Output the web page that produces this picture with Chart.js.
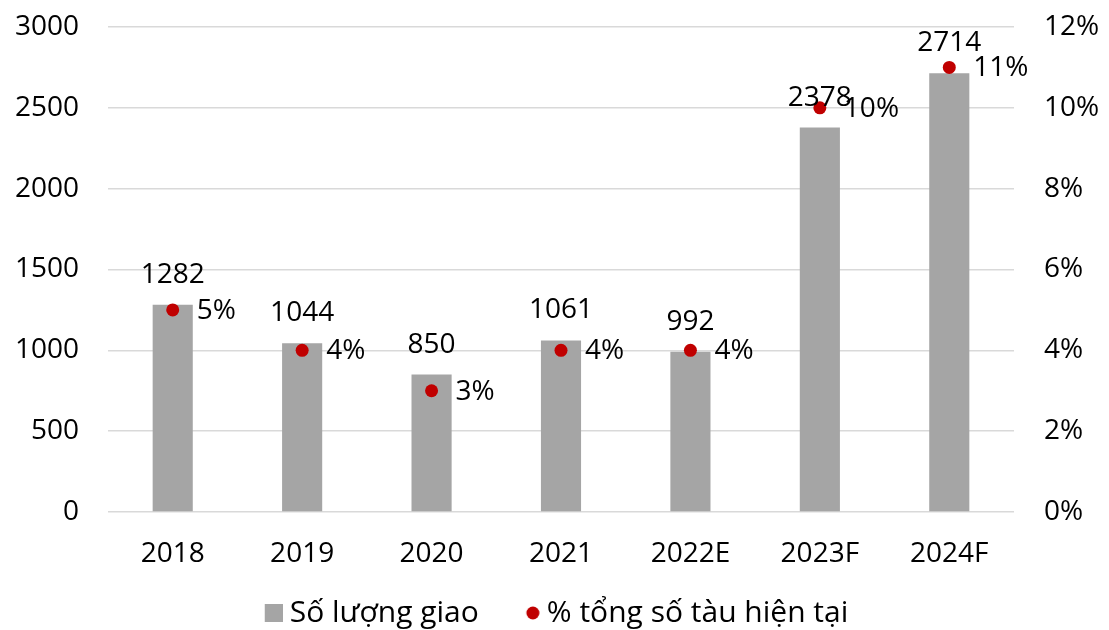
<!DOCTYPE html>
<html>
<head>
<meta charset="utf-8">
<script src="https://cdn.jsdelivr.net/npm/chart.js@4.4.1/dist/chart.umd.min.js"></script>
<style>
html,body{margin:0;padding:0;background:#fff;}
#wrap{width:1109px;height:630px;position:relative;}
</style>
</head>
<body>
<div id="wrap"><canvas id="c" width="1109" height="630"></canvas></div>
<script>
const categories = ['2018', '2019', '2020', '2021', '2022E', '2023F', '2024F'];
const deliveries = [1282, 1044, 850, 1061, 992, 2378, 2714];
const sharePct = [5, 4, 3, 4, 4, 10, 11];
const seriesNames = ['Số lượng giao', '% tổng số tàu hiện tại'];
const leftTicks = [0, 3000, 500];
const rightTicks = [0, 12, 2];

const FONT = 'Open Sans';
const FS = 28;
const LFS = 30;
const GRAY = '#a5a5a5';
const RED = '#c00000';

function makeMarker(kind) {
  const c = document.createElement('canvas');
  c.width = 30; c.height = 20;
  const x = c.getContext('2d');
  if (kind === 'rect') {
    x.fillStyle = GRAY; x.fillRect(12, 1, 18, 18);
  } else if (kind === 'circle') {
    x.fillStyle = RED; x.beginPath(); x.arc(23, 10, 6.5, 0, Math.PI * 2); x.fill();
  }
  return c;
}

const labelPlugin = {
  id: 'valueLabels',
  afterDatasetsDraw(chart) {
    const ctx = chart.ctx;
    ctx.save();
    ctx.font = FS + 'px "' + FONT + '"';
    ctx.fillStyle = '#000';
    const barMeta = chart.getDatasetMeta(0);
    ctx.textAlign = 'center';
    ctx.textBaseline = 'middle';
    barMeta.data.forEach((el, i) => {
      ctx.fillText(String(deliveries[i]), el.x, el.y - 30);
    });
    const ptMeta = chart.getDatasetMeta(1);
    ctx.textAlign = 'left';
    ptMeta.data.forEach((el, i) => {
      ctx.fillText(sharePct[i] + '%', el.x + 24, el.y + 1);
    });
    ctx.restore();
  }
};

new Chart(document.getElementById('c'), {
  data: {
    labels: categories,
    datasets: [
      {
        type: 'bar',
        label: seriesNames[0],
        data: deliveries,
        backgroundColor: GRAY,
        yAxisID: 'y',
        categoryPercentage: 1,
        barPercentage: 0.31,
        order: 2
      },
      {
        type: 'line',
        label: seriesNames[1],
        data: sharePct,
        yAxisID: 'y1',
        showLine: false,
        pointRadius: 6.5,
        pointHoverRadius: 6.5,
        pointBackgroundColor: RED,
        pointBorderWidth: 0,
        borderColor: RED,
        order: 1
      }
    ]
  },
  options: {
    responsive: false,
    animation: false,
    devicePixelRatio: 1,
    layout: { padding: { top: 27, left: 0, right: 0, bottom: 0 } },
    plugins: {
      tooltip: { enabled: false },
      legend: {
        position: 'bottom',
        maxHeight: 37,
        labels: {
          usePointStyle: true,
          boxWidth: 14,
          boxHeight: 14,
          padding: 5,
          color: '#000',
          font: { family: FONT, size: LFS },
          generateLabels() {
            const items = [
              { text: seriesNames[0], pointStyle: makeMarker('rect'), fillStyle: GRAY, datasetIndex: 0 },
              { text: '', pointStyle: makeMarker('none'), fillStyle: 'transparent', datasetIndex: -1 },
              { text: seriesNames[1], pointStyle: makeMarker('circle'), fillStyle: RED, datasetIndex: 1 }
            ];
            return items.map(it => Object.assign({ strokeStyle: 'transparent', lineWidth: 0, hidden: false, fontColor: '#000' }, it));
          }
        }
      }
    },
    scales: {
      x: {
        grid: { display: false, drawTicks: false },
        border: { display: false },
        ticks: { color: '#000', font: { family: FONT, size: FS }, padding: 25, maxRotation: 0 },
        afterFit(s) { s.height = 81; }
      },
      y: {
        position: 'left',
        min: leftTicks[0], max: leftTicks[1],
        ticks: { stepSize: leftTicks[2], color: '#000', font: { family: FONT, size: FS }, padding: 0,
          callback: v => String(v) },
        grid: { color: '#d9d9d9', lineWidth: 1.5, drawTicks: true, tickLength: 29, tickColor: 'rgba(0,0,0,0)' },
        border: { display: false },
        afterFit(s) { s.width = 108; }
      },
      y1: {
        position: 'right',
        min: rightTicks[0], max: rightTicks[1],
        ticks: { stepSize: rightTicks[2], color: '#000', font: { family: FONT, size: FS }, padding: 0,
          callback: v => v + '%' },
        grid: { display: true, drawOnChartArea: false, drawTicks: true, tickLength: 30, tickColor: 'rgba(0,0,0,0)' },
        border: { display: false },
        afterFit(s) { s.width = 95; }
      }
    }
  },
  plugins: [labelPlugin]
});
</script>
</body>
</html>
